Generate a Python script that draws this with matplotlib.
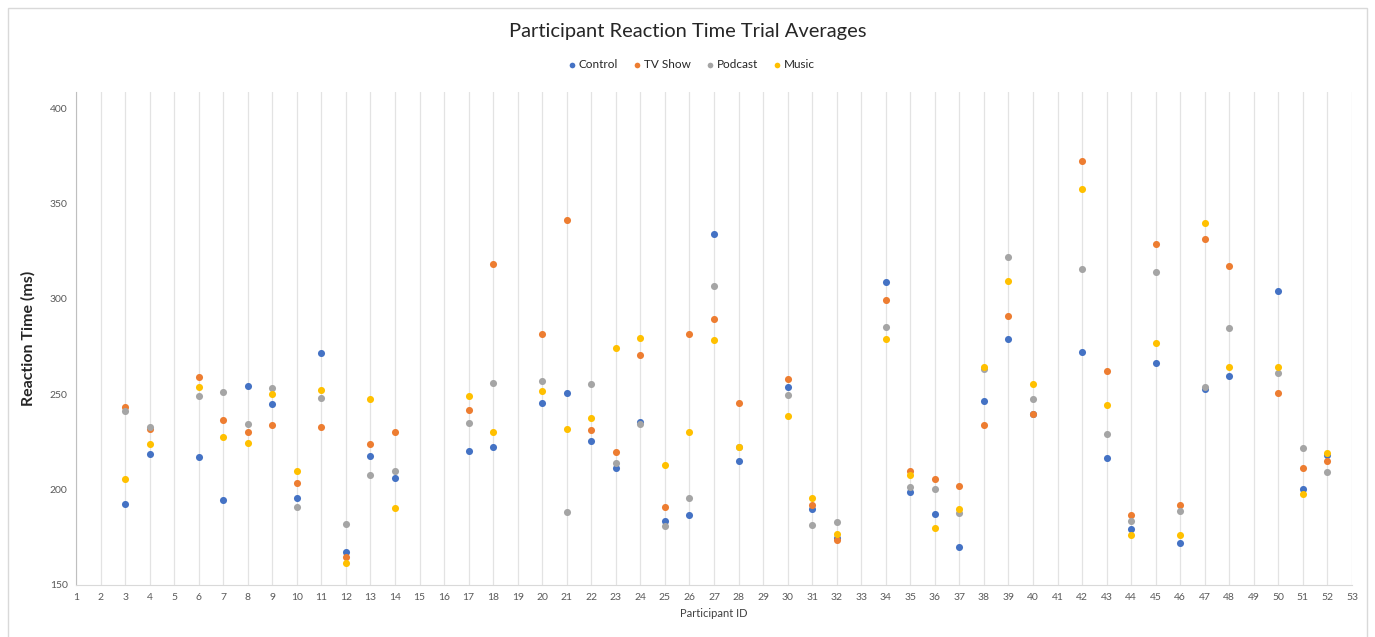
import matplotlib.pyplot as plt
from matplotlib.patches import Rectangle

# participant ids that have data
ids = [3, 4, 6, 7, 8, 9, 10, 11, 12, 13, 14, 17, 18, 20, 21, 22, 23, 24, 25, 26,
       27, 28, 30, 31, 32, 34, 35, 36, 37, 38, 39, 40, 42, 43, 44, 45, 46, 47, 48,
       50, 51, 52]

control = [192.5, 218.6, 217.0, 194.6, 254.4, 245.0, 195.4, 271.5, 167.4, 217.7,
           206.3, 220.2, 222.5, 245.5, 250.5, 225.5, 211.3, 235.6, 183.8, 186.9,
           334.1, 215.2, 253.8, 190.0, 174.8, 308.6, 198.5, 187.2, 169.7, 246.6,
           278.8, 239.7, 271.9, 216.6, 179.1, 266.6, 172.1, 252.6, 259.7,
           304.1, 200.5, 217.9]
tv_show = [243.5, 232.0, 258.8, 236.3, 230.3, 233.8, 203.3, 232.9, 164.9, 223.7,
           230.4, 241.6, 318.0, 281.3, 341.4, 231.3, 219.6, 270.5, 191.1, 281.3,
           289.6, 245.5, 257.9, 192.0, 173.6, 299.4, 209.9, 205.5, 202.1, 233.8,
           291.0, 239.7, 372.4, 262.3, 186.5, 328.8, 191.8, 331.6, 317.1,
           250.5, 211.3, 215.2]
podcast = [241.4, 232.7, 249.0, 251.0, 234.3, 253.3, 191.1, 248.2, 181.9, 207.9,
           209.5, 234.9, 255.8, 256.8, 188.3, 255.2, 214.1, 234.3, 180.8, 195.5,
           306.8, 222.1, 249.4, 181.4, 183.0, 285.2, 201.4, 200.5, 187.9, 263.4,
           322.0, 247.4, 315.5, 229.4, 183.3, 314.1, 188.6, 253.8, 284.8,
           261.3, 221.6, 209.0]
music = [205.3, 223.7, 253.8, 227.4, 224.2, 250.1, 209.9, 252.4, 161.3, 247.6,
         190.2, 249.0, 230.3, 251.5, 231.9, 237.3, 274.0, 279.3, 212.9, 230.3,
         278.5, 222.1, 238.8, 195.7, 176.9, 278.8, 207.8, 179.9, 190.0, 264.1,
         309.1, 255.2, 357.7, 244.1, 176.0, 276.9, 176.0, 339.9, 264.1,
         264.4, 197.7, 219.1]

series = [('Control', control, '#4472C4'), ('TV Show', tv_show, '#ED7D31'),
          ('Podcast', podcast, '#A5A5A5'), ('Music', music, '#FFC000')]

plt.rcParams['font.family'] = ['Lato', 'DejaVu Sans']

fig = plt.figure(figsize=(13.75, 6.37), dpi=100)
ax = fig.add_axes([76 / 1375, 1 - 585 / 637, (1352 - 76) / 1375, (585 - 92) / 637])

for name, vals, col in series:
    ax.scatter(ids, vals, s=26, color=col, label=name, zorder=3, linewidths=0)

ax.set_xlim(1, 53)
ax.set_ylim(150, 408.4)
ax.set_xticks(range(1, 54))
ax.set_yticks(range(150, 401, 50))
ax.xaxis.grid(True, color='#E3E3E3', linewidth=0.9)
ax.yaxis.grid(False)
ax.tick_params(length=0, labelsize=7.5, labelcolor='#595959', pad=6)
for s in ['top', 'right']:
    ax.spines[s].set_visible(False)
ax.spines['left'].set_color('#BFBFBF')
ax.spines['bottom'].set_color('#D9D9D9')

ax.set_ylabel('Reaction Time (ms)', fontsize=11.5, fontweight='bold',
              color='#262626', labelpad=10)
ax.set_xlabel('Participant ID', fontsize=8, color='#404040', labelpad=4)

fig.text(0.5, 1 - 31 / 637, 'Participant Reaction Time Trial Averages',
         ha='center', va='center', fontsize=14.5, color='#262626')
fig.legend(loc='center', bbox_to_anchor=(0.5, 1 - 65 / 637), ncol=4,
           frameon=False, fontsize=8.5, markerscale=0.8, handletextpad=-0.4,
           columnspacing=0.6, labelcolor='#262626')

fig.patches.append(Rectangle((8 / 1375, -0.05), (1367 - 8) / 1375, 1.05 - 8 / 637,
                             transform=fig.transFigure, fill=False,
                             edgecolor='#D9D9D9', linewidth=1))

fig.savefig('out.png', dpi=100)
